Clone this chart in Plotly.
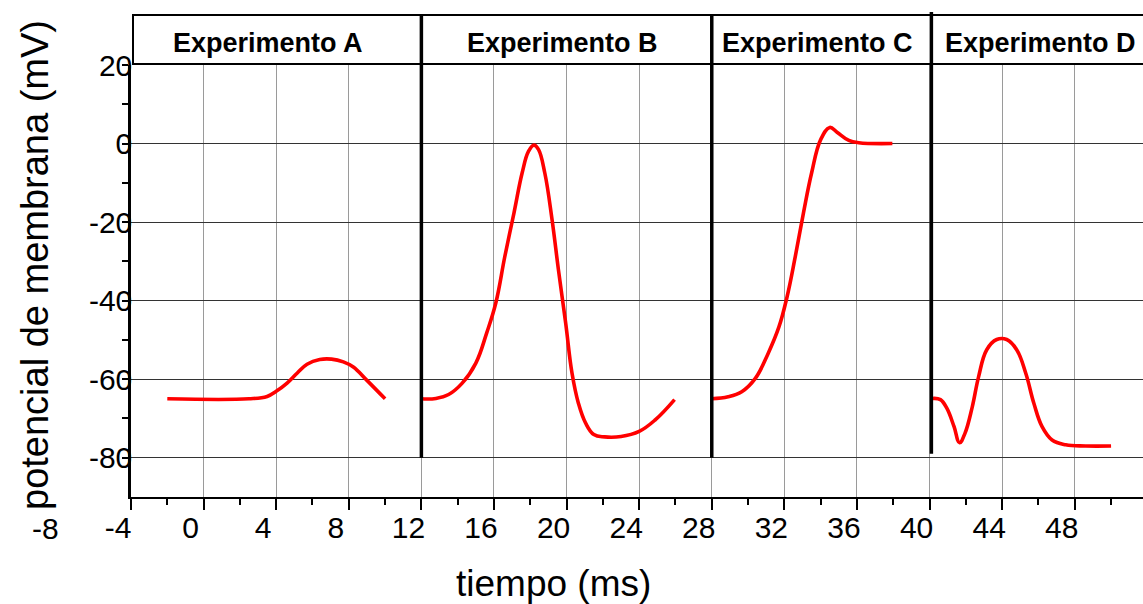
import plotly.graph_objects as go

# ---- data (time in ms, membrane potential in mV) ----
t_A = [-2.0, 2.5, 3.5, 4.0, 4.6, 5.15, 5.7, 6.4, 7.05, 7.7, 8.25, 9.0, 10.0]
v_A = [-65.0, -65.0, -64.4, -63.1, -61.0, -58.5, -56.2, -55.0, -54.9, -55.6, -56.9, -60.3, -65.0]

t_B = [12.0, 12.8, 13.5, 14.25, 15.0, 15.6, 16.1, 16.6, 17.1, 17.55, 17.9, 18.2, 18.45, 18.8,
       19.2, 19.55, 19.95, 20.3, 20.65, 21.05, 21.5, 22.1, 23.0, 24.0, 24.9, 25.95]
v_B = [-65.0, -64.9, -63.9, -61.0, -55.9, -48.2, -40.6, -28.7, -17.7, -7.5, -2.0, -0.4, -1.5, -7.5,
       -19.4, -32.1, -45.7, -58.5, -66.1, -71.2, -74.1, -74.7, -74.6, -73.3, -70.3, -65.2]

t_C = [28.0, 28.9, 29.65, 30.4, 31.1, 31.7, 32.15, 32.6, 33.05, 33.5, 34.0, 34.5, 34.9, 35.55, 36.1, 37.95]
v_C = [-65.0, -64.5, -63.2, -59.8, -53.5, -46.7, -39.0, -28.8, -17.7, -7.5, 1.0, 4.1, 2.9, 0.8, 0.2, 0.0]

t_D = [40.15, 40.6, 40.95, 41.35, 41.65, 41.95, 42.35, 42.7, 43.15, 43.7, 44.25, 44.8, 45.3,
       45.75, 46.2, 46.75, 47.5, 48.6, 50.0]
v_D = [-64.9, -65.2, -67.4, -72.1, -76.2, -73.8, -67.1, -59.4, -52.5, -49.9, -49.9, -52.5, -58.5,
       -66.2, -72.1, -75.5, -76.7, -77.0, -77.0]

panel_titles = ["Experimento A", "Experimento B", "Experimento C", "Experimento D"]
panel_centers = [3.56, 19.76, 33.8, 46.1]
separators = [12.0, 28.0, 40.1]

x_ticks = list(range(-4, 49, 4))
y_ticks = [-80, -60, -40, -20, 0, 20]

FONT = "Arial, Liberation Sans, sans-serif"

# plot-area geometry (pixels)
W, H = 1143, 604
ML, MR, MT, MB = 131, 0, 65, 107
X_RANGE = [-4, 51.76]
Y_RANGE = [-90, 20]
PH = H - MT - MB


def py2paper(py):
    return (H - MB - py) / PH


def px2paper(px):
    return (px - ML) / (W - ML - MR)


def y2paper(y):
    return (y - Y_RANGE[0]) / (Y_RANGE[1] - Y_RANGE[0])


fig = go.Figure()
for t, v in [(t_A, v_A), (t_B, v_B), (t_C, v_C), (t_D, v_D)]:
    fig.add_trace(go.Scatter(x=t, y=v, mode="lines",
                             line=dict(color="#ff0000", width=3.6, shape="spline", smoothing=1.15),
                             showlegend=False, hoverinfo="skip"))

shapes = []
# header band
x_left_box = -4 + (133 - ML) / ((W - ML - MR) / (X_RANGE[1] - X_RANGE[0]))
shapes.append(dict(type="rect", xref="x", yref="paper", x0=x_left_box, x1=X_RANGE[1] + 1,
                   y0=py2paper(64), y1=py2paper(15), line=dict(color="black", width=2),
                   fillcolor="rgba(0,0,0,0)", layer="above"))
# separators
sep_bottoms = [-80, -80, -79]
sep_tops = [15, 15, 12]
for s, b, tp in zip(separators, sep_bottoms, sep_tops):
    shapes.append(dict(type="line", xref="x", yref="paper", x0=s, x1=s,
                       y0=y2paper(b), y1=py2paper(tp), line=dict(color="black", width=3.5),
                       layer="above"))

annotations = []
for title, c in zip(panel_titles, panel_centers):
    annotations.append(dict(text=f"<b>{title}</b>", x=c, y=py2paper(43), xref="x", yref="paper",
                            showarrow=False, xanchor="center", yanchor="middle",
                            font=dict(family=FONT, size=27, color="black")))
# stray "-8" label left of axis
annotations.append(dict(text="-8", x=px2paper(45), y=py2paper(528), xref="paper", yref="paper",
                        showarrow=False, xanchor="center", yanchor="middle",
                        font=dict(family=FONT, size=30, color="black")))
# axis titles
annotations.append(dict(text="tiempo (ms)", x=px2paper(553), y=py2paper(583), xref="paper", yref="paper",
                        showarrow=False, xanchor="center", yanchor="middle",
                        font=dict(family=FONT, size=37, color="black")))
annotations.append(dict(text="potencial de membrana (mV)", x=px2paper(35), y=py2paper(265),
                        xref="paper", yref="paper", textangle=-90,
                        showarrow=False, xanchor="center", yanchor="middle",
                        font=dict(family=FONT, size=38, color="black")))

fig.update_layout(
    width=W, height=H,
    margin=dict(l=ML, r=MR, t=MT, b=MB, pad=0),
    paper_bgcolor="white", plot_bgcolor="white",
    font=dict(family=FONT, color="black"),
    shapes=shapes, annotations=annotations,
    xaxis=dict(range=X_RANGE, tickmode="array", tickvals=x_ticks, ticktext=[str(v) for v in x_ticks],
               showgrid=True, gridcolor="#9a9a9a", gridwidth=1, zeroline=False,
               showline=True, linecolor="black", linewidth=2,
               ticks="outside", ticklen=11, tickwidth=2, tickcolor="black",
               tickfont=dict(family=FONT, size=30, color="black"), ticklabelshift=-13,
               ticklabelstandoff=-8,
               minor=dict(tickmode="array", tickvals=list(range(-2, 52, 4)), ticks="outside",
                          ticklen=6, tickwidth=2, tickcolor="black", showgrid=False),
               fixedrange=True),
    yaxis=dict(range=Y_RANGE, tickmode="array", tickvals=y_ticks, ticktext=[str(v) for v in y_ticks],
               showgrid=True, gridcolor="#333333", gridwidth=1.3, zeroline=False,
               showline=True, linecolor="black", linewidth=2.5,
               ticks="outside", ticklen=6, tickwidth=2, tickcolor="black",
               tickfont=dict(family=FONT, size=30, color="black"), ticklabelstandoff=-16,
               minor=dict(tickmode="array", tickvals=[-70, -50, -30, -10, 10], ticks="outside",
                          ticklen=6, tickwidth=2, tickcolor="black", showgrid=False),
               fixedrange=True),
)

fig.write_html("out.html")
